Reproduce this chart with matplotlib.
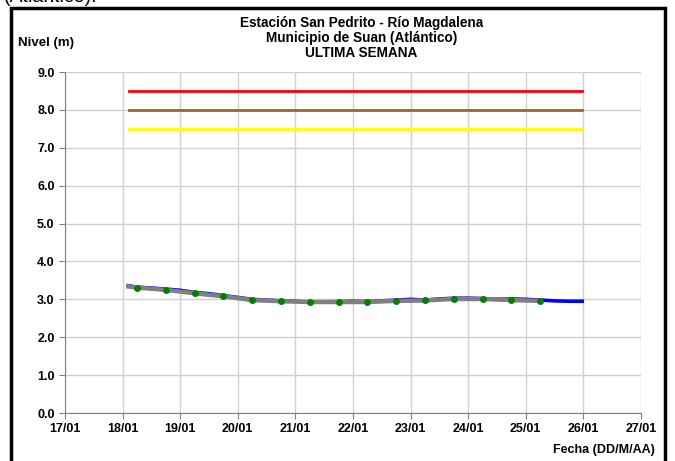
import matplotlib.pyplot as plt
from matplotlib.patches import Rectangle

plt.rcParams['font.family'] = ['Liberation Sans', 'DejaVu Sans']

# nivel medido (dia de enero, metros)
dias = [18.10, 18.25, 18.50, 18.75, 19.00, 19.25, 19.50, 19.75, 20.00, 20.25,
        20.50, 20.75, 21.00, 21.25, 21.50, 21.75, 22.00, 22.25, 22.50, 22.75,
        23.00, 23.25, 23.50, 23.75, 24.00, 24.25, 24.50, 24.75, 25.00, 25.25,
        25.50, 25.75, 25.98]
nivel = [3.36, 3.32, 3.30, 3.27, 3.24, 3.18, 3.15, 3.10, 3.05, 3.00,
         2.98, 2.96, 2.95, 2.92, 2.93, 2.94, 2.95, 2.94, 2.96, 2.98,
         3.00, 2.98, 3.01, 3.03, 3.03, 3.02, 3.00, 3.01, 3.00, 2.98,
         2.96, 2.95, 2.95]

# promedio cada 12 horas
dias_prom = [18.10, 18.25, 18.75, 19.25, 19.75, 20.25, 20.75, 21.25, 21.75,
             22.25, 22.75, 23.25, 23.75, 24.25, 24.75, 25.25]
nivel_prom = [3.34, 3.31, 3.25, 3.16, 3.08, 2.98, 2.95, 2.93, 2.93,
              2.93, 2.96, 2.97, 3.01, 3.01, 2.98, 2.96]
dias_marca = dias_prom[1:]
nivel_marca = nivel_prom[1:]

# niveles de alerta
alerta_ini, alerta_fin = 18.11, 25.98
alertas = [8.5, 8.0, 7.5]
colores_alerta = ['#ff0000', '#996633', '#ffff00']

ticks_x = list(range(17, 28))
etiquetas_x = ['%02d/01' % d for d in ticks_x]

fig = plt.figure(figsize=(6.75, 4.61), dpi=100)
ax = fig.add_axes([0.0963, 0.1041, 0.8533, 0.7397])

for v, c in zip(alertas, colores_alerta):
    ax.plot([alerta_ini, alerta_fin], [v, v], color=c, lw=2, zorder=3)

ax.plot(dias, nivel, color='#0000ff', lw=2.6, zorder=4)
ax.plot(dias_prom, nivel_prom, color='#808080', lw=3.2, zorder=5)
ax.plot(dias_marca, nivel_marca, 'o', color='#008000', ms=4, zorder=6)

ax.set_xlim(17, 27)
ax.set_ylim(0, 9)
ax.set_xticks(ticks_x)
ax.set_xticklabels(etiquetas_x)
ax.set_yticks(range(10))
ax.set_yticklabels(['%.1f' % v for v in range(10)])
ax.grid(True, color='#d0d0d0', lw=1)
ax.set_axisbelow(True)
for s in ['top', 'right']:
    ax.spines[s].set_visible(False)
ax.spines['left'].set_color('#808080')
ax.spines['bottom'].set_color('#808080')
ax.tick_params(axis='both', colors='#808080', length=4, labelcolor='black',
               labelsize=9)
ax.tick_params(axis='x', pad=3)
for lab in ax.get_xticklabels() + ax.get_yticklabels():
    lab.set_fontweight('bold')

fig.text(0.5356, 0.951, 'Estación San Pedrito - Río Magdalena', ha='center',
         va='center', fontsize=9.8, fontweight='bold')
fig.text(0.5356, 0.918, 'Municipio de Suan (Atlántico)', ha='center',
         va='center', fontsize=9.8, fontweight='bold')
fig.text(0.5356, 0.886, 'ULTIMA SEMANA', ha='center', va='center',
         fontsize=9.8, fontweight='bold')
fig.text(0.027, 0.906, 'Nivel (m)', ha='left', va='center', fontsize=9.5,
         fontweight='bold')
fig.text(0.970, 0.024, 'Fecha (DD/M/AA)', ha='right', va='center',
         fontsize=9, fontweight='bold')
fig.text(0.005, 1.005, '(Atlántico).', ha='left', va='center', fontsize=14)

fig.patches.append(Rectangle((0.016, -0.05), 0.969, 1.033, transform=fig.transFigure,
                             fill=False, ec='black', lw=2.5))

fig.savefig('out.png', dpi=100)
